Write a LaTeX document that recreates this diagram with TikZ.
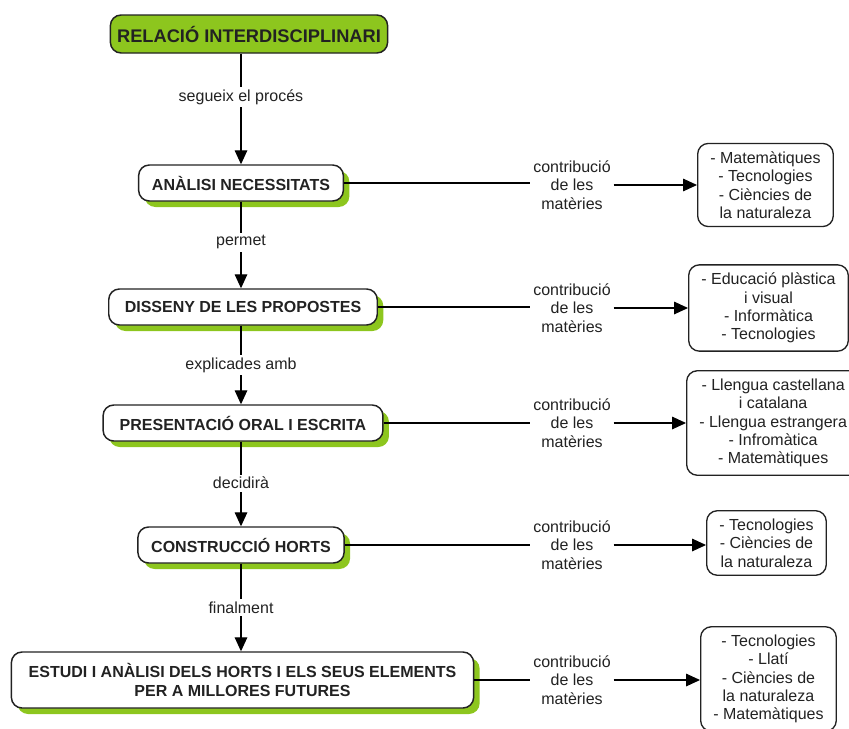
\documentclass[tikz,border=0pt]{standalone}
\usepackage{fontspec}
\setmainfont{Liberation Sans}
\usetikzlibrary{arrows.meta,shadows}
\definecolor{leaf}{RGB}{141,198,30}
\definecolor{ink}{RGB}{34,34,34}
\begin{document}
\begin{tikzpicture}[x=0.75pt,y=-0.75pt,
    every node/.style={font=\fontsize{12}{13.8}\selectfont,text=ink},
    conceptbox/.style={draw=ink,line width=1.1pt,rounded corners=8pt,fill=white,font=\fontsize{12}{13.8}\selectfont\bfseries,inner xsep=10pt,minimum height=27pt,align=center},
    concept/.style={conceptbox,drop shadow={shadow xshift=4.5pt,shadow yshift=-4.5pt,fill=leaf,opacity=1}},
    subject/.style={draw=ink,line width=1pt,rounded corners=8pt,fill=white,align=center,inner xsep=9.5pt,inner ysep=6pt},
    link/.style={fill=white,inner xsep=2pt,inner ysep=2pt,align=center},
    arr/.style={-{Triangle[length=10.5pt,width=9.5pt]},line width=0.8pt}]
                \useasboundingbox (0,0) rectangle (849,728);

                \node[conceptbox,fill=leaf,font=\fontsize{13.7}{15}\selectfont\bfseries,inner xsep=5pt,minimum height=28.5pt] (rel) at (249,34) {RELACIÓ INTERDISCIPLINARI};
                \node[concept] (ana) at (241,183) {ANÀLISI NECESSITATS};
                \node[concept,inner xsep=12pt] (dis) at (243,307) {DISSENY DE LES PROPOSTES};
                \node[concept,inner xsep=12.5pt] (pre) at (243,423) {PRESENTACIÓ ORAL I ESCRITA};
                \node[concept] (cons) at (241,545) {CONSTRUCCIÓ HORTS};
                \node[concept,inner xsep=13pt,minimum height=42pt] (estudi) at (242.5,680) {ESTUDI I ANÀLISI DELS HORTS I ELS SEUS ELEMENTS\\PER A MILLORES FUTURES};

                \node[link] (c1) at (572,185) {contribució\\de les\\matèries};
                \node[link] (c2) at (572,308) {contribució\\de les\\matèries};
                \node[link] (c3) at (572,423) {contribució\\de les\\matèries};
                \node[link] (c4) at (572,545) {contribució\\de les\\matèries};
                \node[link] (c5) at (572,680) {contribució\\de les\\matèries};

                \node[subject,anchor=west] (m1) at (697,185) {- Matemàtiques\\- Tecnologies\\- Ciències de\\la naturaleza};
                \node[subject,anchor=west] (m2) at (688,308) {- Educació plàstica\\i visual\\- Informàtica\\- Tecnologies};
                \node[subject,anchor=west] (m3) at (686,423) {- Llengua castellana\\i catalana\\- Llengua estrangera\\- Infromàtica\\- Matemàtiques};
                \node[subject,anchor=west] (m4) at (706,543) {- Tecnologies\\- Ciències de\\la naturaleza};
                \node[subject,anchor=west] (m5) at (700,679) {- Tecnologies\\- Llatí\\- Ciències de\\la naturaleza\\- Matemàtiques};

                \draw[arr] (rel.south -| ana.north) to node[link,pos=.39] {segueix el procés} (ana.north);
                \draw[arr] (ana.south) to node[link,pos=.47] {permet} (ana.south |- dis.north);
                \draw[arr] (dis.south -| ana.south) to node[link,pos=.5] {explicades amb} (ana.south |- pre.north);
                \draw[arr] (pre.south -| ana.south) to node[link,pos=.49] {decidirà} (ana.south |- cons.north);
                \draw[arr] (cons.south) to node[link,pos=.5] {finalment} (cons.south |- estudi.north);

                \draw[line width=0.8pt] (ana.east) to (ana.east -| c1.west); \draw[arr] (c1.east) to (c1.east -| m1.west);
                \draw[line width=0.8pt] (dis.east) to (dis.east -| c2.west); \draw[arr] (c2.east) to (c2.east -| m2.west);
                \draw[line width=0.8pt] (pre.east) to (pre.east -| c3.west); \draw[arr] (c3.east) to (c3.east -| m3.west);
                \draw[line width=0.8pt] (cons.east) to (cons.east -| c4.west); \draw[arr] (c4.east) to (c4.east -| m4.west);
                \draw[line width=0.8pt] (estudi.east) to (estudi.east -| c5.west); \draw[arr] (c5.east) to (c5.east -| m5.west);
\end{tikzpicture}
\end{document}
